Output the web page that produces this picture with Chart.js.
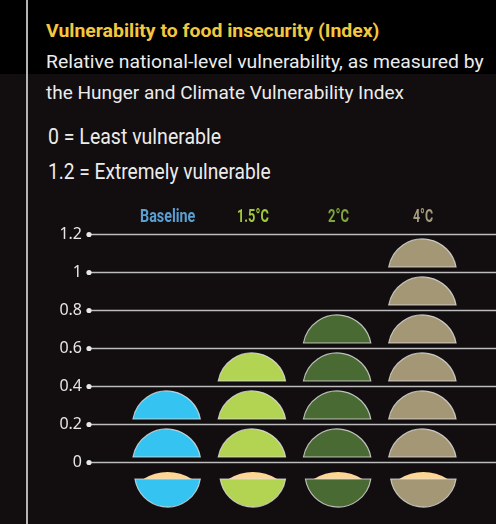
<!DOCTYPE html>
<html>
<head>
<meta charset="utf-8">
<script src="https://cdn.jsdelivr.net/npm/chart.js@4.4.1/dist/chart.umd.min.js"></script>
<style>
  html, body { margin: 0; padding: 0; }
  body { width: 496px; height: 524px; position: relative; overflow: hidden; background: #120d0f; }
  #band { position: absolute; left: 0; top: 0; width: 496px; height: 74px; background: #000; }
  #rule { position: absolute; left: 26px; top: 0; width: 2px; height: 524px; background: #b4b4b4; }
  .txt { position: absolute; left: 46px; white-space: nowrap; font-family: Roboto, sans-serif; transform-origin: 0 0; }
  #title { top: 21px; font-size: 19px; line-height: 19px; font-weight: bold; color: #f4c83e; }
  #sub1 { top: 52px; font-size: 19px; line-height: 19px; color: #ececec; }
  #sub2 { top: 83px; font-size: 19px; line-height: 19px; color: #ececec; }
  #leg1 { top: 126px; left: 48px; font-size: 22px; line-height: 22px; color: #ececec; }
  #leg2 { top: 161px; left: 48px; font-size: 22px; line-height: 22px; color: #ececec; }
  .head { top: 207px; font-size: 18px; line-height: 18px; font-weight: bold; }
  #chart { position: absolute; left: 0; top: 0; }
</style>
</head>
<body>
<div id="band"></div>
<div id="rule"></div>
<div class="txt" id="title">Vulnerability to food insecurity (Index)</div>
<div class="txt" id="sub1">Relative national-level vulnerability, as measured by</div>
<div class="txt" id="sub2">the Hunger and Climate Vulnerability Index</div>
<div class="txt" id="leg1">0 = Least vulnerable</div>
<div class="txt" id="leg2">1.2 = Extremely vulnerable</div>
<canvas id="chart" width="496" height="524"></canvas>

<script>
// data
const scenarios = ["Baseline", "1.5°C", "2°C", "4°C"];
const vulnerability = [0.4, 0.6, 0.8, 1.2];
const yTicks = [0, 0.2, 0.4, 0.6, 0.8, 1, 1.2];
const unitStep = 0.2; // one half-bowl per 0.2 of the index

// styles
const labelColors = ["#5a9fd2", "#9fc93c", "#7da63c", "#a59c7e"];
const bowlColors = ["#35c4f1", "#b2d452", "#4a6a33", "#a39776"];
const foodColor = "#fdd693";
const outline = "rgba(225,225,225,0.8)";

// the original uses a condensed face; squeeze the text to its measured width
function squeeze(el, width) {
    el.style.transform = "scaleX(" + (width / el.offsetWidth) + ")";
}
squeeze(document.getElementById("title"), 333);
squeeze(document.getElementById("sub1"), 438);
squeeze(document.getElementById("sub2"), 358);
squeeze(document.getElementById("leg1"), 173);
squeeze(document.getElementById("leg2"), 223);
const headWidths = [55, 32, 21, 20];

// draws a circular segment: chord at yChord, bulging up (dir -1) or down (dir 1)
function segment(ctx, cx, yChord, w, h, dir) {
    const r = (w * w / 4 + h * h) / (2 * h);
    const a = Math.asin((w / 2) / r);
    ctx.beginPath();
    if (dir < 0) {
        ctx.arc(cx, yChord + (r - h), r, -Math.PI / 2 - a, -Math.PI / 2 + a);
    } else {
        ctx.arc(cx, yChord - (r - h), r, Math.PI / 2 - a, Math.PI / 2 + a);
    }
    ctx.closePath();
}

const gridPlugin = {
    id: "gridDots",
    beforeDatasetsDraw(chart) {
        const ctx = chart.ctx;
        const y = chart.scales.y;
        const x0 = 89;
        ctx.save();
        y.ticks.forEach(t => {
            const py = Math.round(y.getPixelForValue(t.value)) + 0.5;
            ctx.strokeStyle = "#bdbdbd";
            ctx.lineWidth = 1.6;
            ctx.beginPath();
            ctx.moveTo(x0, py);
            ctx.lineTo(chart.width, py);
            ctx.stroke();
            ctx.fillStyle = "#e8e8e8";
            ctx.beginPath();
            ctx.arc(x0, py, 2.6, 0, Math.PI * 2);
            ctx.fill();
        });
        ctx.restore();
    }
};

const bowlPlugin = {
    id: "bowls",
    afterDatasetsDraw(chart) {
        const ctx = chart.ctx;
        const y = chart.scales.y;
        const meta = chart.getDatasetMeta(0);
        const gap = 5;
        ctx.save();
        ctx.lineWidth = 1.2;
        ctx.strokeStyle = outline;
        meta.data.forEach((bar, i) => {
            const w = bar.width;
            const value = vulnerability[i];
            // stacked half-bowls, one per step
            for (let v = 0; v < value - 1e-9; v += unitStep) {
                const yb = y.getPixelForValue(v);
                const yt = y.getPixelForValue(v + unitStep);
                segment(ctx, bar.x, yb - gap, w, (yb - yt) - 2 * gap, -1);
                ctx.fillStyle = bowlColors[i];
                ctx.fill();
                ctx.stroke();
            }
            // bowl of food under the zero line
            const y0 = y.getPixelForValue(0);
            const rim = y0 + 17;
            segment(ctx, bar.x + 1, rim, w * 0.72, 7, -1);
            ctx.fillStyle = foodColor;
            ctx.fill();
            segment(ctx, bar.x + 1, rim, w - 2, 28, 1);
            ctx.fillStyle = bowlColors[i];
            ctx.fill();
            ctx.stroke();
        });
        ctx.restore();
    }
};

const chart = new Chart(document.getElementById("chart"), {
    type: "bar",
    data: {
        labels: scenarios,
        datasets: [{
            data: vulnerability,
            backgroundColor: "rgba(0,0,0,0)",
            borderWidth: 0,
            barPercentage: 0.79,
            categoryPercentage: 1
        }]
    },
    options: {
        responsive: false,
        animation: false,
        events: [],
        layout: { padding: { top: 234, left: 0, right: 31, bottom: 62 } },
        plugins: { legend: { display: false }, tooltip: { enabled: false } },
        scales: {
            x: {
                offset: true,
                grid: { display: false, drawTicks: false },
                border: { display: false },
                ticks: { display: false },
                afterFit(scale) { scale.height = 0; }
            },
            y: {
                min: 0,
                max: 1.2,
                grid: { display: false, drawTicks: false },
                border: { display: false },
                afterBuildTicks(scale) { scale.ticks = yTicks.map(v => ({ value: v })); },
                ticks: {
                    padding: 42,
                    color: "#e6e6e6",
                    font: { family: "'Noto Sans', sans-serif", size: 16 },
                    callback: v => String(+Number(v).toFixed(1))
                },
                afterFit(scale) { scale.width = 124; }
            }
        }
    },
    plugins: [gridPlugin, bowlPlugin]
});

// column headings, placed over each category of the x scale
scenarios.forEach((name, i) => {
    const el = document.createElement("div");
    el.className = "txt head";
    el.textContent = name;
    el.style.color = labelColors[i];
    document.body.appendChild(el);
    el.style.left = (chart.scales.x.getPixelForValue(i) + 1 - headWidths[i] / 2) + "px";
    squeeze(el, headWidths[i]);
});
</script>
</body>
</html>
